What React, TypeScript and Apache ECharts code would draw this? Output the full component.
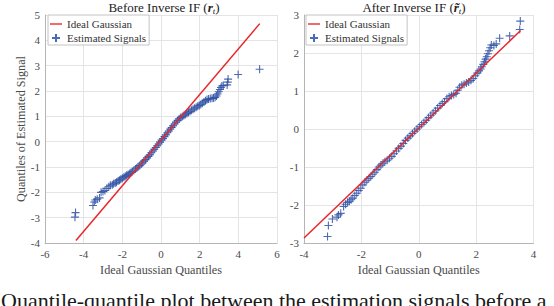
import React, { useEffect, useRef } from "react";
import * as echarts from "echarts";

// Left panel: Before Inverse IF — [ideal gaussian quantile, estimated signal quantile]
const leftPoints: number[][] = [
  [-4.45, -2.98], [-4.42, -2.8], [-3.52, -2.52], [-3.45, -2.38], [-3.4, -2.3], [-3.3, -2.27],
  [-3.18, -2.22], [-3.1, -2.0], [-3.0, -1.97], [-2.9, -1.93], [-2.8, -1.85], [-2.7, -1.78],
  [-2.62, -1.72], [-2.52, -1.7], [-2.45, -1.66], [-2.37, -1.63], [-2.3, -1.6], [-2.22, -1.55],
  [-2.15, -1.52], [-2.08, -1.48], [-2.0, -1.44], [-1.92, -1.4], [-1.85, -1.37], [-1.78, -1.33],
  [-1.7, -1.3], [-1.62, -1.26], [-1.55, -1.22], [-1.48, -1.18], [-1.4, -1.13], [-1.32, -1.08],
  [-1.25, -1.04], [-1.18, -0.99], [-1.1, -0.94], [-1.02, -0.88], [-0.95, -0.83], [-0.88, -0.77],
  [-0.8, -0.71], [-0.72, -0.64], [-0.65, -0.58], [-0.58, -0.52], [-0.5, -0.44], [-0.42, -0.37],
  [-0.35, -0.3], [-0.27, -0.23], [-0.2, -0.16], [-0.12, -0.09], [-0.05, -0.02], [0.03, 0.06],
  [0.1, 0.12], [0.18, 0.2], [0.25, 0.27], [0.33, 0.35], [0.4, 0.42], [0.48, 0.5], [0.55, 0.56],
  [0.62, 0.63], [0.7, 0.7], [0.78, 0.77], [0.86, 0.84], [0.94, 0.9], [1.02, 0.95], [1.1, 0.99],
  [1.18, 1.03], [1.26, 1.07], [1.34, 1.11], [1.42, 1.15], [1.5, 1.19], [1.58, 1.24], [1.66, 1.28],
  [1.74, 1.32], [1.82, 1.36], [1.9, 1.4], [1.98, 1.43], [2.06, 1.47], [2.14, 1.52], [2.22, 1.57],
  [2.3, 1.62], [2.38, 1.66], [2.46, 1.68], [2.55, 1.7], [2.64, 1.71], [2.72, 1.72], [2.8, 1.75],
  [2.87, 1.8], [2.93, 1.88], [2.99, 1.97], [3.05, 2.06], [3.1, 2.14], [3.15, 2.2], [3.22, 2.22],
  [3.42, 2.24], [3.45, 2.35], [3.47, 2.47], [3.99, 2.65], [5.1, 2.86],
];
const leftIdealLine: number[][] = [[-4.4, -3.9], [5.11, 4.66]];

// Right panel: After Inverse IF
const rightPoints: number[][] = [
  [-4.03, -2.94], [-3.18, -2.83], [-3.15, -2.54], [-3.01, -2.37], [-2.85, -2.32], [-2.8, -2.26],
  [-2.72, -2.22], [-2.62, -2.04], [-2.55, -1.98], [-2.48, -1.93], [-2.42, -1.9], [-2.36, -1.86],
  [-2.3, -1.82], [-2.23, -1.75], [-2.16, -1.69], [-2.09, -1.62], [-2.02, -1.56], [-1.95, -1.47],
  [-1.88, -1.4], [-1.81, -1.35], [-1.74, -1.3], [-1.67, -1.25], [-1.6, -1.19], [-1.53, -1.14],
  [-1.46, -1.07], [-1.39, -1.0], [-1.32, -0.95], [-1.25, -0.9], [-1.18, -0.86], [-1.1, -0.82],
  [-1.02, -0.77], [-0.94, -0.72], [-0.86, -0.65], [-0.78, -0.58], [-0.7, -0.51], [-0.62, -0.45],
  [-0.54, -0.38], [-0.46, -0.3], [-0.38, -0.24], [-0.3, -0.18], [-0.22, -0.12], [-0.14, -0.06],
  [-0.06, 0.0], [0.02, 0.06], [0.1, 0.12], [0.18, 0.17], [0.26, 0.23], [0.34, 0.3], [0.42, 0.36],
  [0.5, 0.42], [0.58, 0.48], [0.66, 0.55], [0.74, 0.62], [0.82, 0.67], [0.9, 0.72], [0.98, 0.8],
  [1.06, 0.85], [1.14, 0.88], [1.22, 0.91], [1.3, 0.94], [1.36, 1.02], [1.42, 1.1], [1.5, 1.15],
  [1.58, 1.18], [1.66, 1.21], [1.74, 1.24], [1.82, 1.28], [1.9, 1.33], [1.97, 1.4], [2.04, 1.47],
  [2.1, 1.53], [2.16, 1.58], [2.2, 1.64], [2.25, 1.7], [2.29, 1.77], [2.33, 1.84], [2.37, 1.9],
  [2.41, 1.98], [2.45, 2.06], [2.49, 2.14], [2.53, 2.21], [2.62, 2.2], [2.7, 2.24], [2.82, 2.39],
  [3.17, 2.45], [3.52, 2.62], [3.54, 2.84],
];
const rightIdealLine: number[][] = [[-4.0, -2.87], [3.55, 2.59]];

const leftXRange = [-6, 6];
const leftYRange = [-4, 5];
const rightXRange = [-4, 4];
const rightYRange = [-3, 3];

const SERIF = "Liberation Serif";
const BLUE = "#2f51a3";
const RED = "#e8262a";
const PLUS = "path://M5,0L5,10M0,5L10,5";
const LINE_ICON = "path://M0,0L14,0L14,1.6L0,1.6Z";

function valueAxis(gridIndex: number, range: number[], interval: number, extra: any) {
  return {
    type: "value",
    gridIndex,
    min: range[0],
    max: range[1],
    interval,
    axisLine: { show: true, onZero: false, lineStyle: { color: "#b5b5b5", width: 1 } },
    axisTick: { show: false },
    splitLine: { show: true, lineStyle: { color: "#e4e4e4", width: 1 } },
    axisLabel: { fontFamily: SERIF, fontSize: 11, color: "#4a4a4a", margin: 5 },
    nameTextStyle: { fontFamily: SERIF, fontSize: 12.2, color: "#4a4a4a" },
    ...extra,
  };
}

function legendFor(left: number) {
  return {
    left,
    top: 15,
    orient: "vertical",
    data: [
      { name: "Ideal Gaussian", icon: LINE_ICON },
      { name: "Estimated Signals" },
    ],
    itemWidth: 12,
    itemHeight: 8,
    itemGap: 2,
    padding: [3, 3, 1, 2],
    borderColor: "#c4c4c4",
    borderWidth: 1,
    borderRadius: 0,
    backgroundColor: "#ffffff",
    textStyle: { fontFamily: SERIF, fontSize: 11, lineHeight: 12, color: "#333" },
  };
}

export default function App() {
  const ref = useRef<HTMLDivElement>(null);
  useEffect(() => {
    if (!ref.current) return;
    const chart = echarts.init(ref.current, undefined, { renderer: "svg" });
    const scatterStyle = {
      symbol: PLUS,
      symbolSize: 8,
      itemStyle: { color: BLUE, borderColor: BLUE, borderWidth: 1.1, opacity: 0.85 },
    };
    const titleRich = {
      r: { fontFamily: SERIF, fontSize: 13, fontStyle: "italic", fontWeight: "bold", color: "#222", lineHeight: 15 },
      t: { fontFamily: SERIF, fontSize: 9, fontStyle: "italic", color: "#222", lineHeight: 9, verticalAlign: "bottom" },
    };
    chart.setOption({
      animation: false,
      grid: [
        { left: 45, top: 15, width: 232, height: 228 },
        { left: 304, top: 15, width: 229.5, height: 228 },
      ],
      xAxis: [
        valueAxis(0, leftXRange, 2, { name: "Ideal Gaussian Quantiles", nameLocation: "middle", nameGap: 14 }),
        valueAxis(1, rightXRange, 2, { name: "Ideal Gaussian Quantiles", nameLocation: "middle", nameGap: 14 }),
      ],
      yAxis: [
        valueAxis(0, leftYRange, 1, { name: "Quantiles of Estimated Signal", nameLocation: "middle", nameGap: 14 }),
        valueAxis(1, rightYRange, 1, {}),
      ],
      legend: [legendFor(48), legendFor(306)],
      series: [
        {
          name: "Ideal Gaussian", type: "line", xAxisIndex: 0, yAxisIndex: 0,
          data: leftIdealLine, symbol: "none", lineStyle: { color: RED, width: 1.5 }, itemStyle: { color: RED },
        },
        { name: "Estimated Signals", type: "scatter", xAxisIndex: 0, yAxisIndex: 0, data: leftPoints, ...scatterStyle },
        {
          name: "Ideal Gaussian", type: "line", xAxisIndex: 1, yAxisIndex: 1,
          data: rightIdealLine, symbol: "none", lineStyle: { color: RED, width: 1.5 }, itemStyle: { color: RED },
        },
        { name: "Estimated Signals", type: "scatter", xAxisIndex: 1, yAxisIndex: 1, data: rightPoints, ...scatterStyle },
      ],
      graphic: [
        {
          type: "text", x: 164, y: 0,
          style: {
            text: "Before Inverse IF ({r|r}{t|t})", align: "center", verticalAlign: "top",
            fontFamily: SERIF, fontSize: 13, fill: "#222", rich: titleRich,
          },
        },
        {
          type: "text", x: 414, y: 0,
          style: {
            text: "After Inverse IF ({r|r\u0303}{t|t})", align: "center", verticalAlign: "top",
            fontFamily: SERIF, fontSize: 13, fill: "#222", rich: titleRich,
          },
        },
        {
          type: "text", x: 1, y: 289,
          style: {
            text: "Quantile-quantile plot between the estimation signals before a",
            fontFamily: SERIF, fontSize: 22, fill: "#1a1a1a", verticalAlign: "top",
          },
        },
      ],
    });
    return () => chart.dispose();
  }, []);
  return <div ref={ref} style={{ position: "absolute", left: 0, top: 0, width: 554, height: 306 }} />;
}
